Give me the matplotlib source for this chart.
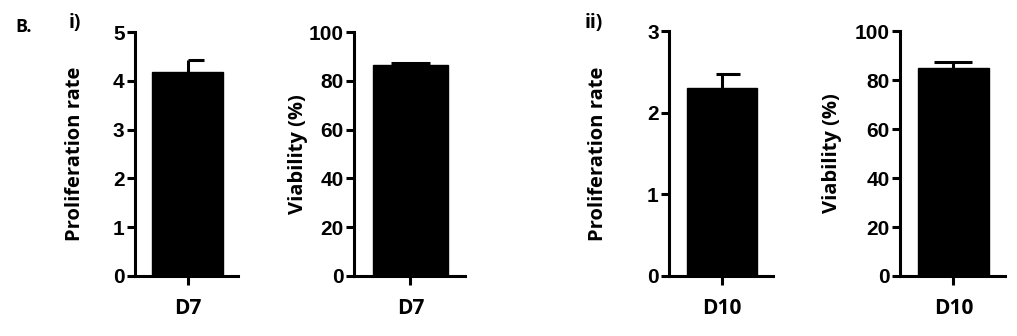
import matplotlib
matplotlib.use("Agg")
import matplotlib.pyplot as plt
import numpy as np

# values
panels = ["i", "i", "ii", "ii"]
groups = ["D7", "D7", "D10", "D10"]
ylabels = ["Proliferation rate", "Viability (%)", "Proliferation rate", "Viability (%)"]
means = [4.18, 86.5, 2.30, 84.9]
errs = [0.25, 0.8, 0.17, 2.4]
ymax = [5, 100, 3, 100]
ystep = [1, 20, 1, 20]

# layout (figure fractions) and cap extents (in bar widths)
boxes = [(0.1327, 0.1786, 0.1013, 0.726),
         (0.348, 0.1786, 0.109, 0.726),
         (0.658, 0.1786, 0.102, 0.729),
         (0.885, 0.1786, 0.103, 0.729)]
label_x = [-0.58, -0.50, -0.69, -0.65]
caps = [(0.0, 0.24), (-0.26, 0.26), (-0.08, 0.25), (-0.27, 0.26)]

plt.rcParams['font.family'] = ['Liberation Sans', 'DejaVu Sans']
plt.rcParams['font.weight'] = 'bold'
label_font = ['Open Sans', 'DejaVu Sans']

fig = plt.figure(figsize=(10.17, 3.36), dpi=100)
lw = 2.2

for i in range(4):
    ax = fig.add_axes(boxes[i])
    ax.bar([0], [means[i]], width=1.0, color='black', edgecolor='black', zorder=2)
    ax.vlines(0, means[i], means[i] + errs[i], color='black', lw=lw, zorder=1)
    ax.hlines(means[i] + errs[i], caps[i][0], caps[i][1], color='black', lw=lw, zorder=3)

    ax.set_xlim(-0.75, 0.72)
    ax.set_ylim(0, ymax[i])
    ax.set_yticks(np.arange(0, ymax[i] + 1, ystep[i]))
    ax.set_xticks([0])
    ax.set_xticklabels([groups[i]], fontsize=15, fontweight='bold', family=label_font)
    for s in ['top', 'right']:
        ax.spines[s].set_visible(False)
    for s in ['left', 'bottom']:
        ax.spines[s].set_linewidth(lw)
    ax.tick_params(axis='y', length=6, width=lw, pad=1.5, labelsize=15)
    ax.tick_params(axis='x', length=6.5, width=lw, pad=9)
    for t in ax.get_yticklabels():
        t.set_fontweight('bold')
    ax.set_ylabel(ylabels[i], fontsize=14.5, fontweight='bold', va='center', family=label_font)
    ax.yaxis.set_label_coords(label_x[i], 0.5)

fig.text(15 / 1017, 1 - 27 / 336, "B.", fontsize=13, fontweight='bold', va='center', family=label_font)
fig.text(69 / 1017, 1 - 23 / 336, "i)", fontsize=14, fontweight='bold', va='center', family=label_font)
fig.text(585 / 1017, 1 - 23 / 336, "ii)", fontsize=14, fontweight='bold', va='center', family=label_font)

fig.savefig("out.png", dpi=100)
